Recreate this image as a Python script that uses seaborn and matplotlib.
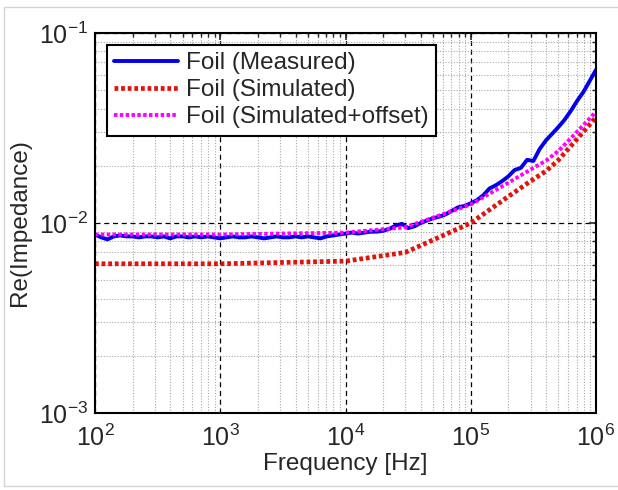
import numpy as np
import pandas as pd
import matplotlib
matplotlib.use("Agg")
import matplotlib.pyplot as plt
import seaborn as sns

# *DATA*
## measured sweep: 20 points per decade, 1e2 .. 1e6 Hz
freq_measured = np.logspace(2, 6, 81)
z_measured = [
    # 1e2 .. 1e3
    0.0087, 0.0084, 0.0082, 0.0085, 0.0086, 0.0085, 0.0085, 0.0084, 0.0085, 0.0085,
    0.0084, 0.0085, 0.0083, 0.0085, 0.0085, 0.0084, 0.0085, 0.0084, 0.0085, 0.0084,
    # 1e3 .. 1e4
    0.0083, 0.0084, 0.0085, 0.0084, 0.0084, 0.0085, 0.0084, 0.0083, 0.0084, 0.0085,
    0.0084, 0.0084, 0.0085, 0.0084, 0.0085, 0.0084, 0.0083, 0.0085, 0.0086, 0.0087,
    # 1e4 .. 1e5
    0.0088, 0.0089, 0.0088, 0.0089, 0.0090, 0.0090, 0.0091, 0.0093, 0.0097, 0.0099,
    0.0094, 0.0096, 0.0100, 0.0103, 0.0106, 0.0108, 0.0111, 0.0116, 0.0121, 0.0123,
    # 1e5 .. 1e6
    0.0127, 0.0132, 0.0140, 0.0152, 0.0158, 0.0166, 0.0176, 0.0190, 0.0195, 0.0215,
    0.0212, 0.0245, 0.0272, 0.0295, 0.0320, 0.0350, 0.0390, 0.0440, 0.0490, 0.0560,
    0.0640,
]

## simulated points
freq_sim = [1e2, 1e3, 1e4, 3e4, 1e5, 2e5, 3e5, 4e5, 5e5, 7e5, 1e6]
z_sim = [0.0061, 0.0061, 0.0063, 0.0070, 0.0100, 0.0138, 0.0166, 0.0188, 0.0214, 0.0275, 0.0360]
z_sim_offset = [0.0087, 0.0087, 0.0089, 0.0095, 0.0125, 0.0163, 0.0191, 0.0213, 0.0239, 0.0300, 0.0385]

labels = ["Foil (Measured)", "Foil (Simulated)", "Foil (Simulated+offset)"]

#----------------------------------------------------------------------

# *PLOT*
sns.set_style("white")
plt.rcParams["font.family"] = ["Liberation Sans", "DejaVu Sans"]
plt.rcParams["mathtext.default"] = "regular"

df_meas = pd.DataFrame({"f": freq_measured, "z": z_measured})
df_sim = pd.DataFrame({"f": freq_sim, "z": z_sim, "zo": z_sim_offset})

fig = plt.figure(figsize=(6.18, 4.9), dpi=100)
ax = fig.add_axes([95 / 618, 1 - 413 / 490, 501 / 618, 380 / 490])

## light grey frame around the picture
fig.patches.append(plt.Rectangle((4 / 618, 4 / 490), 1, 1 - 11 / 490, transform=fig.transFigure,
                                 fill=False, edgecolor="#d4d4d4", linewidth=1))

sns.lineplot(data=df_meas, x="f", y="z", ax=ax, color="#0000ee", linewidth=2.8, label=labels[0])
sns.lineplot(data=df_sim, x="f", y="z", ax=ax, color="#e0140c", linewidth=3.4,
             linestyle=(0, (0.8, 0.6)), label=labels[1])
sns.lineplot(data=df_sim, x="f", y="zo", ax=ax, color="#ff00ff", linewidth=2.8,
             linestyle=(0, (0.9, 0.6)), label=labels[2])

ax.set_xscale("log")
ax.set_yscale("log")
ax.set_xlim(1e2, 1e6)
ax.set_ylim(1e-3, 1e-1)

## grid: black dashed major, grey dotted minor
ax.grid(True, which="major", color="black", linestyle=(0, (4, 3)), linewidth=0.9)
ax.grid(True, which="minor", color="#a8a8a8", linestyle=(0, (1, 1.5)), linewidth=0.8)
ax.set_axisbelow(True)

ax.tick_params(which="both", direction="in", top=True, right=True, labelsize=18)
ax.tick_params(axis="x", pad=8)
ax.tick_params(axis="y", pad=5)
ax.tick_params(which="major", length=5, width=1.2)
ax.tick_params(which="minor", length=3, width=1)
for s in ax.spines.values():
    s.set_linewidth(1.5)
    s.set_color("black")

ax.set_xlabel("Frequency [Hz]", fontsize=17.5, labelpad=2)
ax.set_ylabel("Re(Impedance)", fontsize=17.5, labelpad=6)

leg = ax.legend(loc="upper left", bbox_to_anchor=(0.024, 0.968), fontsize=17.5, frameon=True,
                fancybox=False, edgecolor="black", framealpha=1, handlelength=2.6,
                handletextpad=0.35, labelspacing=0.2, borderpad=0.3, borderaxespad=0)
leg.get_frame().set_linewidth(1.5)

plt.savefig("out.png", dpi=100)
